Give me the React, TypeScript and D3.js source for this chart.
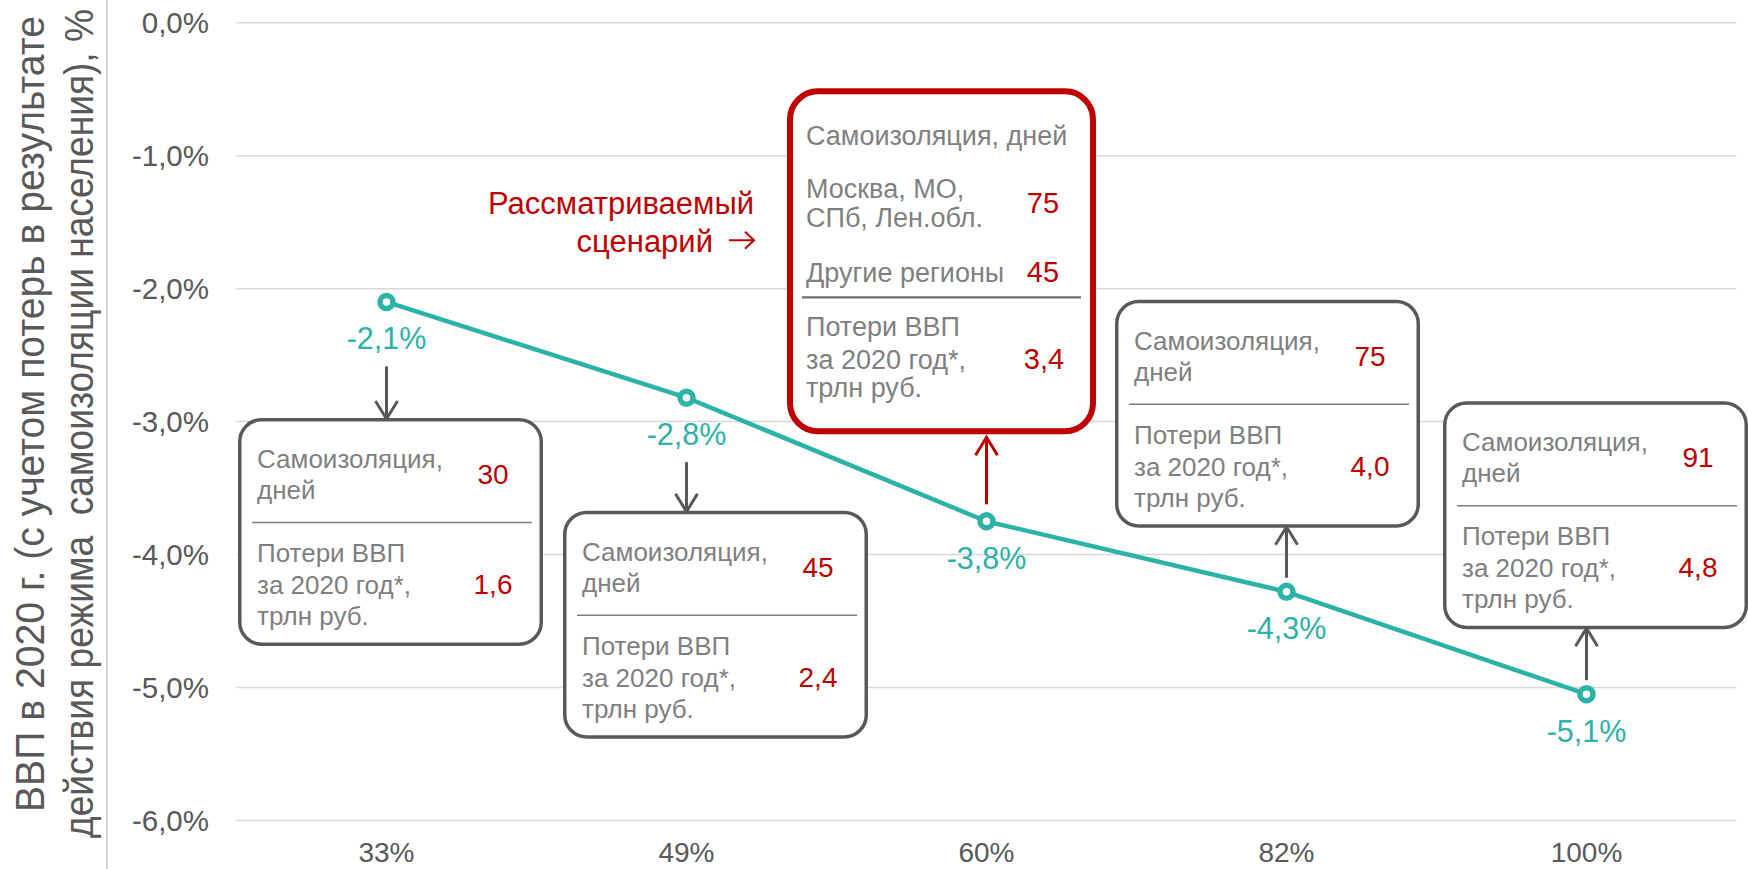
import * as d3 from 'd3'
import React from 'react'

// scenarios: share of population under self-isolation
const categories = ['33%', '49%', '60%', '82%', '100%']
const gdpChange = [-2.1, -2.82, -3.75, -4.28, -5.05]
const gdpLabels = ['-2,1%', '-2,8%', '-3,8%', '-4,3%', '-5,1%']
const isolationDays = ['30', '45', '', '75', '91']
const gdpLoss = ['1,6', '2,4', '3,4', '4,0', '4,8']
const focusRegions = [['Москва, МО,', 'СПб, Лен.обл.'], ['Другие регионы']]
const focusDays = ['75', '45']
const yTicks = [0, -1, -2, -3, -4, -5, -6]
const yTitle = ['ВВП в 2020 г. (с учетом потерь в результате', 'действия режима  самоизоляции населения), %']

const W = 1748
const H = 869
const FONT = '"Liberation Sans", Arial, sans-serif'
const TEAL = '#2bb3a7'
const RED = '#c00000'
const DARK = '#595959'
const GREYTXT = '#7f7f7f'
const GRID = '#d9d9d9'

// where each callout box sits relative to its point
const callouts = [
  { dx: 4, side: 'below', gap: 116 },
  { dx: 29, side: 'below', gap: 113 },
  { dx: -45, side: 'above', gap: 87, focus: true },
  { dx: -19, side: 'above', gap: 64 },
  { dx: 9, side: 'above', gap: 65 },
]

const fmtTick = (v: number) => v.toFixed(1).replace('.', ',') + '%'

const x = d3.scaleBand<string>().domain(categories).range([236.5, 1736.5])
const y = d3.scaleLinear().domain([-6, 0]).range([820.5, 22.7])
const cx = (c: string) => (x(c) as number) + x.bandwidth() / 2

const line = d3
  .line<number>()
  .x((d, i) => cx(categories[i]))
  .y(d => y(d))

const Arrow = ({ px, from, to, color }: any) => {
  const dir = to > from ? 1 : -1
  return (
    <g stroke={color} strokeWidth={3} fill="none">
      <line x1={px} x2={px} y1={from} y2={to} />
      <path d={`M${px - 11},${to - dir * 18} L${px},${to} L${px + 11},${to - dir * 18}`} />
    </g>
  )
}

const GreyBox = ({ left, top, days, loss }: any) => {
  const w = 305
  const h = 228
  const sw = 3.5
  const t = { fontSize: 26, fill: GREYTXT }
  const n = { fontSize: 28, fill: RED, textAnchor: 'middle' as const }
  return (
    <g>
      <rect x={left + sw / 2} y={top + sw / 2} width={w - sw} height={h - sw} rx={22} fill="#fff" stroke={DARK} strokeWidth={sw} />
      <text x={left + 19} y={top + 50} {...t}>Самоизоляция,</text>
      <text x={left + 19} y={top + 81} {...t}>дней</text>
      <text x={left + 255} y={top + 66} {...n}>{days}</text>
      <line x1={left + 14} x2={left + 294} y1={top + 104.5} y2={top + 104.5} stroke={GREYTXT} strokeWidth={1.5} />
      <text x={left + 19} y={top + 144} {...t}>Потери ВВП</text>
      <text x={left + 19} y={top + 176} {...t}>за 2020 год*,</text>
      <text x={left + 19} y={top + 207} {...t}>трлн руб.</text>
      <text x={left + 255} y={top + 176} {...n}>{loss}</text>
    </g>
  )
}

const FocusBox = ({ left, top, loss }: any) => {
  const w = 309
  const h = 346
  const sw = 6
  const t = { fontSize: 27, fill: GREYTXT }
  const n = { fontSize: 29, fill: RED, textAnchor: 'middle' as const }
  const lx = left - 33
  return (
    <g>
      <rect x={left + sw / 2} y={top + sw / 2} width={w - sw} height={h - sw} rx={28} fill="#fff" stroke={RED} strokeWidth={sw} />
      <text x={left + 19} y={top + 57} {...t}>Самоизоляция, дней</text>
      <text x={left + 19} y={top + 110} {...t}>{focusRegions[0][0]}</text>
      <text x={left + 19} y={top + 139} {...t}>{focusRegions[0][1]}</text>
      <text x={left + 256} y={top + 125} {...n}>{focusDays[0]}</text>
      <text x={left + 19} y={top + 194} {...t}>{focusRegions[1][0]}</text>
      <text x={left + 256} y={top + 194} {...n}>{focusDays[1]}</text>
      <line x1={left + 15} x2={left + 294} y1={top + 209} y2={top + 209} stroke="#6f6f6f" strokeWidth={2.2} />
      <text x={left + 19} y={top + 248} {...t}>Потери ВВП</text>
      <text x={left + 19} y={top + 281} {...t}>за 2020 год*,</text>
      <text x={left + 19} y={top + 309} {...t}>трлн руб.</text>
      <text x={left + 257} y={top + 281} {...n}>{loss}</text>
      <text x={lx} y={top + 126} fontSize={31} fill={RED} textAnchor="end">Рассматриваемый</text>
      <text x={lx - 41} y={top + 164} fontSize={31} fill={RED} textAnchor="end">сценарий</text>
      <path d={`M${lx - 25},${top + 152} H${lx} M${lx - 9},${top + 143.5} L${lx},${top + 152} L${lx - 9},${top + 160.5}`}
        fill="none" stroke={RED} strokeWidth={2} />
    </g>
  )
}

export default function App() {
  const [x0, x1] = x.range()
  return (
    <svg width={W} height={H} style={{ position: 'absolute', left: 0, top: 0, background: '#fff' }} fontFamily={FONT}>
      {/* separator */}
      <line x1={107} x2={107} y1={0} y2={H} stroke="#c8c8c8" strokeWidth={1.5} />

      {/* y axis title */}
      <text transform={`translate(44,${(812 + 16) / 2}) rotate(-90)`} textAnchor="middle" fontSize={40} fill={DARK}
        textLength={796} lengthAdjust="spacingAndGlyphs">{yTitle[0]}</text>
      <text transform={`translate(93,${(838 + 9) / 2}) rotate(-90)`} textAnchor="middle" fontSize={40} fill={DARK}
        textLength={829} lengthAdjust="spacingAndGlyphs" style={{ whiteSpace: 'pre' }}>{yTitle[1]}</text>

      {/* grid + y ticks */}
      {yTicks.map(t => (
        <g key={t}>
          <line x1={x0} x2={x1} y1={y(t)} y2={y(t)} stroke={GRID} strokeWidth={1.5} />
          <text x={209} y={y(t)} dy="0.35em" textAnchor="end" fontSize={29.5} fill={DARK}>{fmtTick(t)}</text>
        </g>
      ))}

      {/* x labels */}
      {categories.map(c => (
        <text key={c} x={cx(c)} y={862} textAnchor="middle" fontSize={28} fill={DARK}>{c}</text>
      ))}

      {/* callouts */}
      {categories.map((c, i) => {
        const o = callouts[i]
        const px = cx(c)
        const py = y(gdpChange[i])
        if (o.focus) {
          const h = 346
          const bottom = py - o.gap
          const left = px + o.dx - 309 / 2
          return (
            <g key={c}>
              <Arrow px={px} from={py - 17} to={bottom + 3} color={RED} />
              <FocusBox left={left} top={bottom - h} loss={gdpLoss[i]} />
            </g>
          )
        }
        const left = px + o.dx - 305 / 2
        if (o.side === 'below') {
          const top = py + o.gap
          return (
            <g key={c}>
              <Arrow px={px} from={py + 64.5} to={top + 1} color={DARK} />
              <GreyBox left={left} top={top} days={isolationDays[i]} loss={gdpLoss[i]} />
            </g>
          )
        }
        const bottom = py - o.gap
        return (
          <g key={c}>
            <Arrow px={px} from={py - 14} to={bottom - 1} color={DARK} />
            <GreyBox left={left} top={bottom - 228} days={isolationDays[i]} loss={gdpLoss[i]} />
          </g>
        )
      })}

      {/* series */}
      <path d={line(gdpChange) as string} fill="none" stroke={TEAL} strokeWidth={4.5} />
      {gdpChange.map((v, i) => (
        <g key={i}>
          <circle cx={cx(categories[i])} cy={y(v)} r={6.5} fill="#fff" stroke={TEAL} strokeWidth={5.5} />
          <text x={cx(categories[i])} y={y(v) + 47.5} textAnchor="middle" fontSize={30.5} fill={TEAL}>{gdpLabels[i]}</text>
        </g>
      ))}
    </svg>
  )
}
